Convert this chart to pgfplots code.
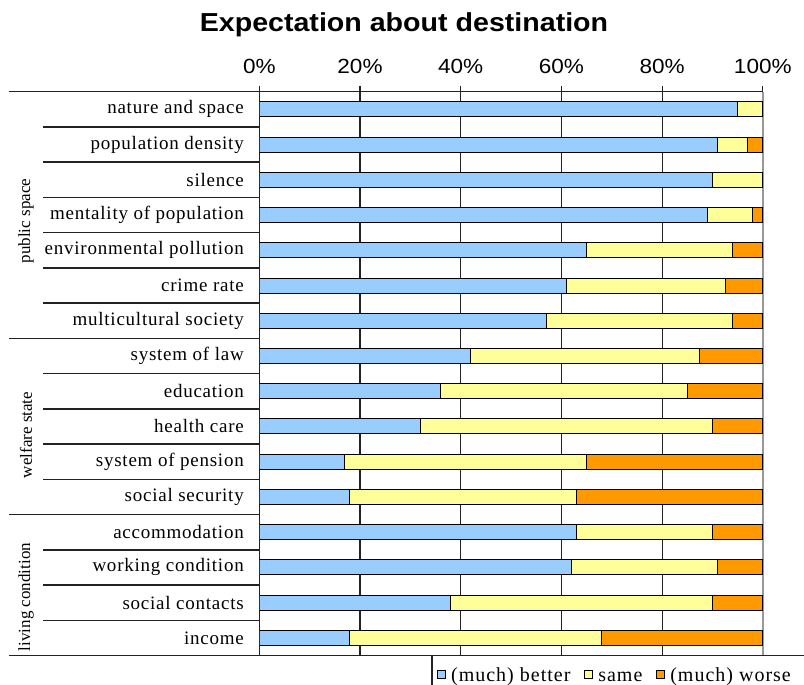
\documentclass[border=0pt]{standalone}
\usepackage{fontspec}
\setmainfont{Liberation Serif}
\newfontfamily\labelfont[LetterSpace=4]{Liberation Serif}
\newfontfamily\legfont[LetterSpace=5]{Liberation Serif}
\newfontfamily\tickfont[FakeStretch=1.1]{Liberation Sans}
\newfontfamily\titlefont[FakeStretch=1.1]{Liberation Sans}
\usepackage{pgfplots}
\usepackage{pgfplotstable}
\pgfplotsset{compat=1.18}
\definecolor{cblue}{HTML}{99CCFF}
\definecolor{cyellow}{HTML}{FFFF99}
\definecolor{corange}{HTML}{FF9900}
\definecolor{lineclr}{HTML}{222222}

\pgfplotstableread{
y better same worse
15 95 5 0
14 91 6 3
13 90 10 0
12 89 9 2
11 65 29 6
10 61 31.5 7.5
9 57 37 6
8 42 45.5 12.5
7 36 49 15
6 32 58 10
5 17 48 35
4 18 45 37
3 63 27 10
2 62 29 9
1 38 52 10
0 18 50 32
}\data

\begin{document}
\begin{tikzpicture}[x=1pt,y=1pt]
\path[use as bounding box] (0,0) rectangle (804,-685);
\begin{axis}[
  at={(259.3pt,-655.5pt)}, anchor=south west,
  scale only axis, width=503.5pt, height=563.8pt,
  xbar stacked, bar width=15pt,
  xmin=0, xmax=100, ymin=-0.5, ymax=15.5,
  axis x line=top, axis y line=left,
  axis line style={-, lineclr, line width=1.5pt},
  xtick={0,20,40,60,80}, extra x ticks={100},
  extra x tick style={grid style={gray!80, line width=1.6pt}},
  xmajorgrids, grid style={lineclr, line width=1.2pt},
  tick align=outside, major tick length=6pt,
  xtick style={lineclr, line width=1.2pt},
  ytick style={draw=none},
  /pgf/number format/assume math mode=true,
  xticklabel={\pgfmathprintnumber{\tick}\%},
  xticklabel style={font=\tickfont\fontsize{20.5}{24}\selectfont, anchor=base, yshift=12pt},
  ytick={0,...,15},
  yticklabels={income, social contacts, working condition, accommodation, social security, system of pension, health care, education, system of law, multicultural society, crime rate, environmental pollution, mentality of population, silence, population density, nature and space},
  yticklabel style={font=\labelfont\fontsize{19}{22}\selectfont, anchor=east, xshift=-6pt},
  legend style={at={(0.353,0)}, anchor=north west, draw=none, fill=none,
    font=\legfont\fontsize{20}{22}\selectfont, inner sep=0pt, yshift=-8pt,
    /tikz/every odd column/.append style={column sep=3pt},
    /tikz/every even column/.append style={column sep=12pt}},
  legend columns=3,
  legsq/.style={legend image code/.code={\draw[##1, draw=black, line width=0.9pt] (0pt,-4pt) rectangle (8pt,4pt);}},
]
\addplot[fill=cblue, draw=black, line width=1pt, legsq] table[x=better, y=y]{\data};
\addplot[fill=cyellow, draw=black, line width=1pt, legsq] table[x=same, y=y]{\data};
\addplot[fill=corange, draw=black, line width=1pt, legsq] table[x=worse, y=y]{\data};
\legend{\strut(much) better, \strut same, \strut(much) worse}
\end{axis}
% tick marks on the top axis line
\foreach \v in {0,20,40,60,80,100}
  \draw[lineclr, line width=1.2pt] ({259.3+5.035*\v},-91.7) -- ++(0,6);
% separator lines
\foreach \k in {1,2,3,4,5,6,8,9,10,11,13,14,15}
  \draw[lineclr, line width=1.5pt] (43, {-91.7-35.24*\k}) -- (259.3, {-91.7-35.24*\k});
\foreach \k in {0,7,12}
  \draw[lineclr, line width=1.5pt] (9, {-91.7-35.24*\k}) -- (259.3, {-91.7-35.24*\k});
\draw[lineclr, line width=1.5pt] (9,-655.5) -- (804,-655.5);
\draw[lineclr, line width=1.5pt] (432,-655.5) -- (432,-685);
% group labels
\node[rotate=90, font=\fontsize{17}{20}\selectfont] at (26,-221) {public space};
\node[rotate=90, font=\fontsize{17}{20}\selectfont] at (26,-435) {welfare state};
\node[rotate=90, font=\fontsize{17}{20}\selectfont] at (26,-597) {living condition};
% title
\node[anchor=base, font=\titlefont\bfseries\fontsize{26}{30}\selectfont] at (404,-32) {Expectation about destination};
\end{tikzpicture}
\end{document}
